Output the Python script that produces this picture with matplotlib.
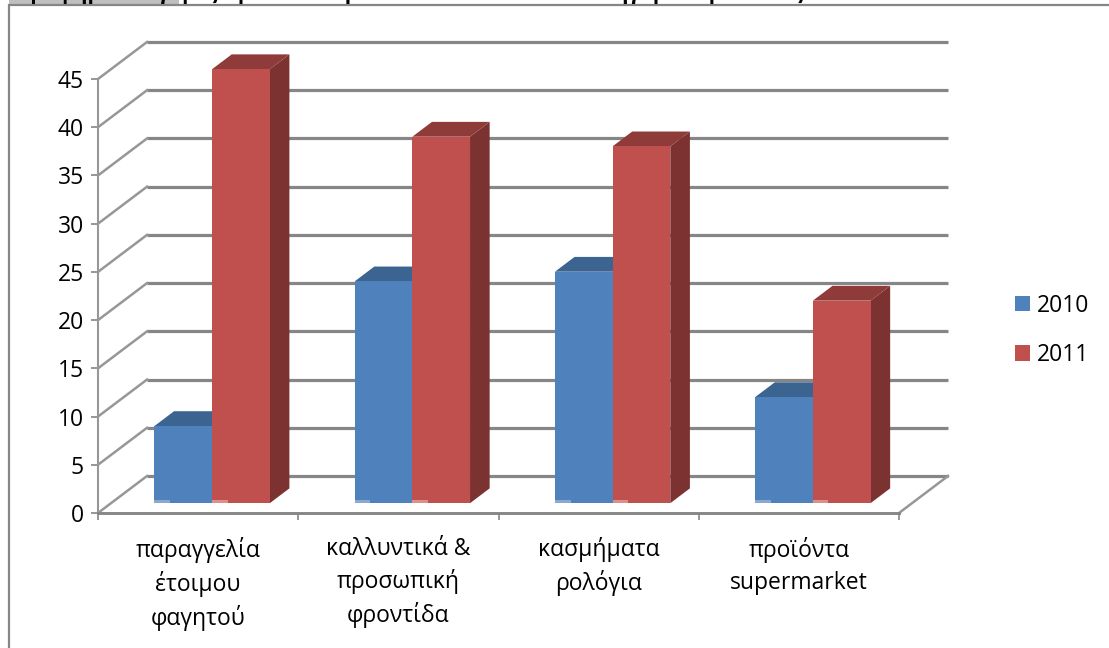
import matplotlib

matplotlib.use("Agg")

import matplotlib.pyplot as plt
from matplotlib.lines import Line2D
from matplotlib.patches import Patch, Polygon, Rectangle

plt.rcParams["font.family"] = ["Open Sans", "DejaVu Sans"]

WIDTH = 1109
HEIGHT = 648

categories = [
    "παραγγελία\nέτοιμου\nφαγητού",
    "καλλυντικά &\nπροσωπική\nφροντίδα",
    "κασμήματα\nρολόγια",
    "προϊόντα\nsupermarket",
]
series_names = ["2010", "2011"]
values_2010 = [8, 23, 24, 11]
values_2011 = [45, 38, 37, 21]
y_ticks = [0, 5, 10, 15, 20, 25, 30, 35, 40, 45]
heading = "Γράφημα 3: Αγορές προϊόντων μέσω διαδικτύου ανά κατηγορία προϊόντος"

BLUE = {"front": "#4f81bd", "top": "#3c6491", "side": "#345a85", "foot": "#8aa8d0"}
RED = {"front": "#c0504d", "top": "#8f3b39", "side": "#7c3230", "foot": "#dc8f8d"}
GRID = "#868686"
TEXT_SIZE = 16.5

# oblique depth of the floor, in data units
DEPTH_X = 0.245
DEPTH_Y = 3.84
BAR_WIDTH = 0.288


def px_box(left, top, right, bottom):
    """Pixel box to figure fractions."""
    return [
        left / WIDTH,
        1 - bottom / HEIGHT,
        (right - left) / WIDTH,
        (bottom - top) / HEIGHT,
    ]


def draw_bar(ax, left, value, colors):
    """Draw one oblique bar standing on the floor."""
    x0 = left + 0.285 * DEPTH_X
    x1 = x0 + BAR_WIDTH
    y0 = 0.265 * DEPTH_Y
    y1 = y0 + value
    dx = 0.4 * DEPTH_X
    dy = 0.4 * DEPTH_Y

    ax.add_patch(
        Polygon(
            [(x1, y0), (x1 + dx, y0 + dy), (x1 + dx, y1 + dy), (x1, y1)],
            facecolor=colors["side"],
            edgecolor="none",
            zorder=3,
            clip_on=False,
        )
    )
    ax.add_patch(
        Polygon(
            [(x0, y1), (x0 + dx, y1 + dy), (x1 + dx, y1 + dy), (x1, y1)],
            facecolor=colors["top"],
            edgecolor="none",
            zorder=3,
            clip_on=False,
        )
    )
    ax.add_patch(
        Rectangle(
            (x0, y0),
            BAR_WIDTH,
            value,
            facecolor=colors["front"],
            edgecolor="none",
            zorder=3,
            clip_on=False,
        )
    )
    ax.add_patch(
        Rectangle(
            (x0, y0),
            BAR_WIDTH * 0.27,
            0.28,
            facecolor=colors["foot"],
            edgecolor="none",
            zorder=3,
            clip_on=False,
        )
    )


fig = plt.figure(figsize=(WIDTH / 100, HEIGHT / 100), dpi=100)
ax = fig.add_axes(px_box(98, 79, 899, 513))
ax.set_xlim(0, len(categories))
ax.set_ylim(0, max(y_ticks))

# back wall and side wall
for tick in y_ticks:
    ax.plot(
        [DEPTH_X, len(categories) + DEPTH_X],
        [tick + DEPTH_Y, tick + DEPTH_Y],
        color=GRID,
        lw=2.3,
        zorder=1,
        clip_on=False,
        solid_capstyle="butt",
    )
    ax.plot(
        [0, DEPTH_X],
        [tick, tick + DEPTH_Y],
        color="#979797",
        lw=1.8,
        zorder=1,
        clip_on=False,
    )

ax.plot(
    [len(categories), len(categories) + DEPTH_X],
    [0, DEPTH_Y],
    color="#979797",
    lw=1.8,
    zorder=1,
    clip_on=False,
)

for i in range(len(categories)):
    group_left = i + 0.5 - BAR_WIDTH
    draw_bar(ax, group_left, values_2010[i], BLUE)
    draw_bar(ax, group_left + BAR_WIDTH, values_2011[i], RED)

for name in ["top", "right"]:
    ax.spines[name].set_visible(False)
ax.spines["left"].set(color="#979797", lw=1.5)
ax.spines["bottom"].set(color=GRID, lw=2.1)
ax.patch.set_alpha(0)

ax.set_yticks(y_ticks)
ax.set_xticks(range(len(categories) + 1), [""] * (len(categories) + 1))
ax.set_xticks([i + 0.5 for i in range(len(categories))], categories, minor=True)
ax.tick_params(axis="y", length=5, width=1.4, color="#979797", labelsize=TEXT_SIZE, pad=5)
ax.tick_params(axis="x", which="major", length=5, width=1.4, color="#979797")
ax.tick_params(axis="x", which="minor", length=0, labelsize=TEXT_SIZE, pad=17.5)
for label in ax.get_xticklabels(minor=True):
    label.set_linespacing(1.4)

handles = [
    Patch(facecolor=BLUE["front"], edgecolor="none"),
    Patch(facecolor=RED["front"], edgecolor="none"),
]
fig.legend(
    handles,
    series_names,
    loc="upper left",
    bbox_to_anchor=(994 / WIDTH, 1 - 273 / HEIGHT),
    frameon=False,
    fontsize=TEXT_SIZE,
    handlelength=0.66,
    handleheight=0.66,
    handletextpad=0.3,
    labelspacing=1.1,
)

# page heading cut off above the chart frame
fig.patches.append(
    Rectangle(
        (9 / WIDTH, 1 - 4 / HEIGHT),
        170 / WIDTH,
        4 / HEIGHT,
        transform=fig.transFigure,
        facecolor="#bfbfbf",
        edgecolor="none",
    )
)
fig.text(
    20 / WIDTH,
    1 + 1.5 / HEIGHT,
    heading,
    fontsize=15,
    fontweight="bold",
    va="baseline",
    ha="left",
    color="black",
)

# chart frame, open at the right and bottom
fig.add_artist(
    Line2D(
        [9 / WIDTH, 9 / WIDTH, 1],
        [0, 1 - 5 / HEIGHT, 1 - 5 / HEIGHT],
        color=GRID,
        lw=1.6,
        solid_joinstyle="miter",
    )
)

fig.savefig("out.png", dpi=100)
plt.close(fig)
